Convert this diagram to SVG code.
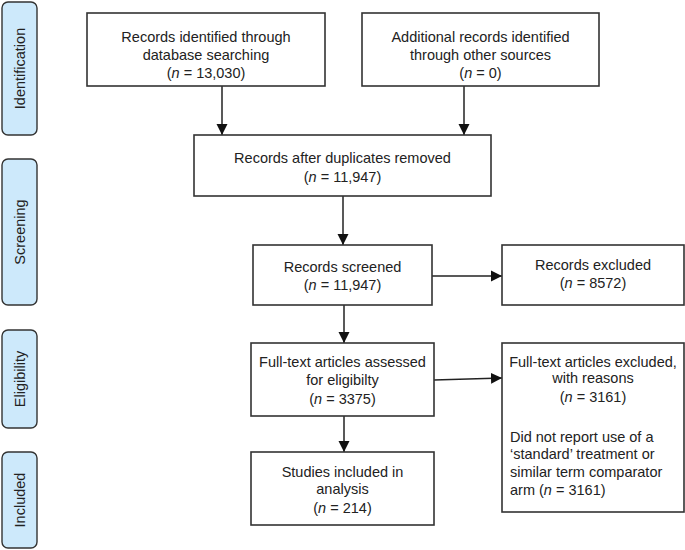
<svg xmlns="http://www.w3.org/2000/svg" width="685" height="550" viewBox="0 0 685 550">
<defs>
<style>
.box{fill:#fff;stroke:#333;stroke-width:1.6}
.side{fill:#cde9fb;stroke:#333;stroke-width:1.4}
text{font-family:"Liberation Sans",Arial,Helvetica,sans-serif;font-size:14.5px;fill:#222}
.c{text-anchor:middle}
.i{font-style:italic}
.con{stroke:#222;stroke-width:1.5;fill:none;marker-end:url(#ah)}
</style>
<marker id="ah" viewBox="0 0 10 10" refX="10" refY="5" markerWidth="11" markerHeight="12" markerUnits="userSpaceOnUse" orient="auto">
<path d="M0,0 L10,5 L0,10 Z" fill="#111"/>
</marker>
</defs>
<g id="side-identification">
<rect class="side" x="2" y="2" width="35" height="133" rx="6"/>
<text class="c" transform="translate(19.5,68.5) rotate(-90)" y="5">Identification</text>
</g>
<g id="side-screening">
<rect class="side" x="2" y="159" width="35" height="146" rx="6"/>
<text class="c" transform="translate(19.5,232) rotate(-90)" y="5">Screening</text>
</g>
<g id="side-eligibility">
<rect class="side" x="2" y="330" width="35" height="98" rx="6"/>
<text class="c" transform="translate(19.5,379) rotate(-90)" y="5">Eligibility</text>
</g>
<g id="side-included">
<rect class="side" x="2" y="452" width="35" height="96" rx="6"/>
<text class="c" transform="translate(19.5,500) rotate(-90)" y="5">Included</text>
</g>
<g id="connectors">
<line class="con" x1="222" y1="86" x2="222" y2="135"/>
<line class="con" x1="464" y1="86" x2="464" y2="135"/>
<line class="con" x1="343" y1="196" x2="343" y2="245"/>
<line class="con" x1="432" y1="276" x2="502" y2="276"/>
<line class="con" x1="344" y1="305" x2="344" y2="343"/>
<line class="con" x1="434" y1="380" x2="502" y2="378"/>
<line class="con" x1="344" y1="416" x2="344" y2="452"/>
</g>
<g id="n-database">
<rect class="box" x="87" y="13" width="238" height="73"/>
<text class="c" x="206" y="42">Records identified through</text>
<text class="c" x="206" y="60">database searching</text>
<text class="c" x="206" y="78">(<tspan class="i">n</tspan> = 13,030)</text>
</g>
<g id="n-other">
<rect class="box" x="362" y="13" width="237" height="73"/>
<text class="c" x="480.5" y="42">Additional records identified</text>
<text class="c" x="480.5" y="60">through other sources</text>
<text class="c" x="480.5" y="78">(<tspan class="i">n</tspan> = 0)</text>
</g>
<g id="n-dedup">
<rect class="box" x="194" y="135" width="297" height="61"/>
<text class="c" x="342.5" y="163">Records after duplicates removed</text>
<text class="c" x="342.5" y="182">(<tspan class="i">n</tspan> = 11,947)</text>
</g>
<g id="n-screened">
<rect class="box" x="253" y="245" width="179" height="60"/>
<text class="c" x="342.5" y="272">Records screened</text>
<text class="c" x="342.5" y="290">(<tspan class="i">n</tspan> = 11,947)</text>
</g>
<g id="n-excluded">
<rect class="box" x="502" y="245" width="182" height="60"/>
<text class="c" x="593" y="270">Records excluded</text>
<text class="c" x="593" y="288">(<tspan class="i">n</tspan> = 8572)</text>
</g>
<g id="n-fulltext">
<rect class="box" x="251" y="343" width="183" height="73"/>
<text class="c" x="342.5" y="367">Full-text articles assessed</text>
<text class="c" x="342.5" y="385">for eligibilty</text>
<text class="c" x="342.5" y="404">(<tspan class="i">n</tspan> = 3375)</text>
</g>
<g id="n-ftexcluded">
<rect class="box" x="502" y="343" width="182" height="169"/>
<text class="c" x="593" y="367">Full-text articles excluded,</text>
<text class="c" x="593" y="383">with reasons</text>
<text class="c" x="593" y="402">(<tspan class="i">n</tspan> = 3161)</text>
<text x="510" y="442">Did not report use of a</text>
<text x="510" y="459">‘standard’ treatment or</text>
<text x="510" y="477">similar term comparator</text>
<text x="510" y="495">arm (<tspan class="i">n</tspan> = 3161)</text>
</g>
<g id="n-included">
<rect class="box" x="251" y="452" width="183" height="73"/>
<text class="c" x="342.5" y="477">Studies included in</text>
<text class="c" x="342.5" y="494">analysis</text>
<text class="c" x="342.5" y="513">(<tspan class="i">n</tspan> = 214)</text>
</g>
</svg>
